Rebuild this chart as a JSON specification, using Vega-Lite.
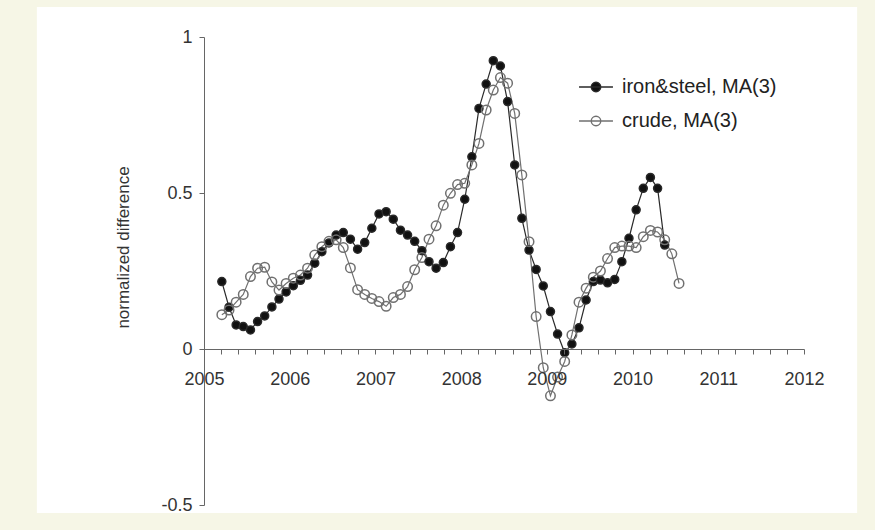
{
  "$schema": "https://vega.github.io/schema/vega-lite/v6.json",
  "width": 600,
  "height": 468,
  "autosize": {"type": "none"},
  "padding": {"left": 204, "top": 37, "right": 71, "bottom": 25},
  "background": "#f6f6e6",
  "config": {"view": {"stroke": null}, "font": "Liberation Sans", "axis": {"zindex": 1}},
  "layer": [
    {
      "data": {"values": [{}]},
      "mark": {"type": "rect", "fill": "white"},
      "encoding": {
        "x": {"datum": 2003.05, "type": "quantitative", "scale": {"domain": [2005, 2012], "nice": false, "zero": false}},
        "x2": {"datum": 2012.62},
        "y": {"datum": 1.096, "type": "quantitative", "scale": {"domain": [-0.5, 1], "nice": false, "zero": false}},
        "y2": {"datum": -0.526}
      }
    },
    {
      "data": {"name": "d", "values": [
        {"t": 2005.208, "iron": 0.216, "crude": 0.110},
        {"t": 2005.292, "iron": 0.134, "crude": 0.125},
        {"t": 2005.375, "iron": 0.077, "crude": 0.150},
        {"t": 2005.458, "iron": 0.072, "crude": 0.175},
        {"t": 2005.542, "iron": 0.061, "crude": 0.232},
        {"t": 2005.625, "iron": 0.088, "crude": 0.259},
        {"t": 2005.708, "iron": 0.106, "crude": 0.262},
        {"t": 2005.792, "iron": 0.135, "crude": 0.215},
        {"t": 2005.875, "iron": 0.160, "crude": 0.189},
        {"t": 2005.958, "iron": 0.183, "crude": 0.210},
        {"t": 2006.042, "iron": 0.203, "crude": 0.227},
        {"t": 2006.125, "iron": 0.220, "crude": 0.237},
        {"t": 2006.208, "iron": 0.237, "crude": 0.259},
        {"t": 2006.292, "iron": 0.275, "crude": 0.301},
        {"t": 2006.375, "iron": 0.312, "crude": 0.328},
        {"t": 2006.458, "iron": 0.340, "crude": 0.345},
        {"t": 2006.542, "iron": 0.365, "crude": 0.350},
        {"t": 2006.625, "iron": 0.373, "crude": 0.325},
        {"t": 2006.708, "iron": 0.352, "crude": 0.260},
        {"t": 2006.792, "iron": 0.320, "crude": 0.190},
        {"t": 2006.875, "iron": 0.341, "crude": 0.175},
        {"t": 2006.958, "iron": 0.387, "crude": 0.162},
        {"t": 2007.042, "iron": 0.433, "crude": 0.152},
        {"t": 2007.125, "iron": 0.440, "crude": 0.137},
        {"t": 2007.208, "iron": 0.416, "crude": 0.165},
        {"t": 2007.292, "iron": 0.381, "crude": 0.175},
        {"t": 2007.375, "iron": 0.365, "crude": 0.200},
        {"t": 2007.458, "iron": 0.345, "crude": 0.254},
        {"t": 2007.542, "iron": 0.315, "crude": 0.293},
        {"t": 2007.625, "iron": 0.280, "crude": 0.352},
        {"t": 2007.708, "iron": 0.259, "crude": 0.395},
        {"t": 2007.792, "iron": 0.277, "crude": 0.461},
        {"t": 2007.875, "iron": 0.328, "crude": 0.499},
        {"t": 2007.958, "iron": 0.373, "crude": 0.527},
        {"t": 2008.042, "iron": 0.480, "crude": 0.531},
        {"t": 2008.125, "iron": 0.616, "crude": 0.590},
        {"t": 2008.208, "iron": 0.771, "crude": 0.659},
        {"t": 2008.292, "iron": 0.849, "crude": 0.766},
        {"t": 2008.375, "iron": 0.924, "crude": 0.830},
        {"t": 2008.458, "iron": 0.907, "crude": 0.870},
        {"t": 2008.542, "iron": 0.793, "crude": 0.852},
        {"t": 2008.625, "iron": 0.590, "crude": 0.755},
        {"t": 2008.708, "iron": 0.419, "crude": 0.558},
        {"t": 2008.792, "iron": 0.317, "crude": 0.344},
        {"t": 2008.875, "iron": 0.255, "crude": 0.104},
        {"t": 2008.958, "iron": 0.202, "crude": -0.060},
        {"t": 2009.042, "iron": 0.120, "crude": -0.150},
        {"t": 2009.125, "iron": 0.048, "crude": -0.090},
        {"t": 2009.208, "iron": -0.012, "crude": -0.040},
        {"t": 2009.292, "iron": 0.016, "crude": 0.045},
        {"t": 2009.375, "iron": 0.068, "crude": 0.150},
        {"t": 2009.458, "iron": 0.157, "crude": 0.195},
        {"t": 2009.542, "iron": 0.216, "crude": 0.230},
        {"t": 2009.625, "iron": 0.221, "crude": 0.250},
        {"t": 2009.708, "iron": 0.212, "crude": 0.290},
        {"t": 2009.792, "iron": 0.223, "crude": 0.325},
        {"t": 2009.875, "iron": 0.280, "crude": 0.330},
        {"t": 2009.958, "iron": 0.355, "crude": 0.330},
        {"t": 2010.042, "iron": 0.446, "crude": 0.325},
        {"t": 2010.125, "iron": 0.515, "crude": 0.360},
        {"t": 2010.208, "iron": 0.550, "crude": 0.380},
        {"t": 2010.292, "iron": 0.515, "crude": 0.375},
        {"t": 2010.375, "iron": 0.333, "crude": 0.350},
        {"t": 2010.458, "iron": null, "crude": 0.305},
        {"t": 2010.542, "iron": null, "crude": 0.210}
      ]},
      "transform": [{"fold": ["iron", "crude"], "as": ["series", "v"]}],
      "layer": [
        {
          "mark": {"type": "line", "strokeWidth": 1.2},
          "encoding": {
            "x": {"field": "t", "type": "quantitative", "scale": {"domain": [2005, 2012], "nice": false, "zero": false},
              "axis": {"values": [2005, 2005.2, 2005.4, 2005.6, 2005.8, 2006, 2006.2, 2006.4, 2006.6, 2006.8, 2007, 2007.2, 2007.4, 2007.6, 2007.8, 2008, 2008.2, 2008.4, 2008.6, 2008.8, 2009, 2009.2, 2009.4, 2009.6, 2009.8, 2010, 2010.2, 2010.4, 2010.6, 2010.8, 2011, 2011.2, 2011.4, 2011.6, 2011.8, 2012],
                "tickCount": 200,
                "labelExpr": "datum.value % 1 == 0 ? '' + datum.value : ''", "title": null, "offset": -156,
                "domainColor": "#666", "tickColor": "#666", "tickSize": 5, "labelFont": "Liberation Sans", "labelFontSize": 18, "labelColor": "#333",
                "labelPadding": 16, "grid": false, "zindex": 1, "labelOverlap": false, "labelFlush": false, "labelBound": false}},
            "y": {"field": "v", "type": "quantitative", "scale": {"domain": [-0.5, 1], "nice": false, "zero": false},
              "axis": {"values": [-0.5, 0, 0.5, 1], "labelExpr": "'' + datum.value", "title": "normalized difference",
                "titleFont": "Liberation Sans", "titleFontSize": 17, "titleFontWeight": "normal", "titleColor": "#333",
                "titleX": -81, "titleY": 210, "titleBaseline": "middle", "titleAlign": "center", "titleAngle": -90,
                "domainColor": "#666", "tickColor": "#666", "tickSize": 5, "labelFont": "Liberation Sans", "labelFontSize": 18, "labelColor": "#333",
                "labelPadding": 7, "grid": false, "zindex": 1}},
            "stroke": {"field": "series", "type": "nominal", "scale": {"domain": ["iron", "crude"], "range": ["#2a2a2a", "#707070"]},
              "legend": {"title": null, "orient": "none", "legendX": 374, "legendY": 32, "symbolType": "M-1,0H1M0.28,0A0.28,0.28 0 1,1 -0.28,0A0.28,0.28 0 1,1 0.28,0Z", "symbolSize": 1150, "symbolStrokeWidth": 1.4, "symbolOpacity": 1, "labelFont": "Liberation Sans", "labelFontSize": 20, "labelColor": "#222", "labelOffset": 8, "rowPadding": 6, "labelLimit": 300, "padding": 0,
                "labelExpr": "datum.label == 'iron' ? 'iron&steel, MA(3)' : 'crude, MA(3)'"}}
          }
        },
        {
          "mark": {"type": "point", "shape": "circle", "strokeWidth": 1.5, "opacity": 1},
          "encoding": {
            "x": {"field": "t", "type": "quantitative", "scale": {"domain": [2005, 2012], "nice": false, "zero": false}},
            "y": {"field": "v", "type": "quantitative", "scale": {"domain": [-0.5, 1], "nice": false, "zero": false}},
            "stroke": {"field": "series", "type": "nominal", "scale": {"domain": ["iron", "crude"], "range": ["#2a2a2a", "#707070"]},
              "legend": {"title": null, "orient": "none", "legendX": 374, "legendY": 32, "symbolType": "M-1,0H1M0.28,0A0.28,0.28 0 1,1 -0.28,0A0.28,0.28 0 1,1 0.28,0Z", "symbolSize": 1150, "symbolStrokeWidth": 1.4, "symbolOpacity": 1, "labelFont": "Liberation Sans", "labelFontSize": 20, "labelColor": "#222", "labelOffset": 8, "rowPadding": 6, "labelLimit": 300, "padding": 0,
                "labelExpr": "datum.label == 'iron' ? 'iron&steel, MA(3)' : 'crude, MA(3)'"}},
            "fill": {"field": "series", "type": "nominal", "scale": {"domain": ["iron", "crude"], "range": ["#111", "transparent"]},
              "legend": {"title": null, "orient": "none", "legendX": 374, "legendY": 32, "symbolType": "M-1,0H1M0.28,0A0.28,0.28 0 1,1 -0.28,0A0.28,0.28 0 1,1 0.28,0Z", "symbolSize": 1150, "symbolStrokeWidth": 1.4, "symbolOpacity": 1, "labelFont": "Liberation Sans", "labelFontSize": 20, "labelColor": "#222", "labelOffset": 8, "rowPadding": 6, "labelLimit": 300, "padding": 0,
                "labelExpr": "datum.label == 'iron' ? 'iron&steel, MA(3)' : 'crude, MA(3)'"}},
            "size": {"condition": {"test": "datum.series === 'iron'", "value": 64}, "value": 90}
          }
        }
      ]
    }
  ]
}
